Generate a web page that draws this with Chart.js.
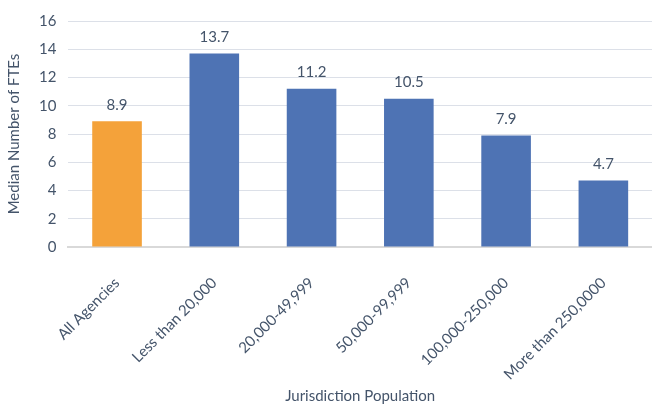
<!DOCTYPE html>
<html>
<head>
<meta charset="utf-8">
<script src="https://cdn.jsdelivr.net/npm/chart.js@4"></script>
<style>
  html, body { margin: 0; padding: 0; background: #fff; }
  #wrap { width: 652px; height: 405px; }
</style>
</head>
<body>
<div id="wrap"><canvas id="ftes" width="652" height="405"></canvas></div>
<script>
var categories = ["All Agencies", "Less than 20,000", "20,000-49,999", "50,000-99,999", "100,000-250,000", "More than 250,0000"];
var medianFtes = [8.9, 13.7, 11.2, 10.5, 7.9, 4.7];
var barColors = ["#F4A23A", "#4E73B4", "#4E73B4", "#4E73B4", "#4E73B4", "#4E73B4"];
var yTicks = [0, 2, 4, 6, 8, 10, 12, 14, 16];

var textColor = "#44546A";
var fontFamily = "Lato, 'Open Sans', sans-serif";

// value labels above each bar
var barLabels = {
  id: 'barLabels',
  afterDatasetsDraw: function(chart) {
    var ctx = chart.ctx;
    var meta = chart.getDatasetMeta(0);
    ctx.save();
    ctx.fillStyle = textColor;
    ctx.font = "15px " + fontFamily;
    ctx.textAlign = 'center';
    ctx.textBaseline = 'bottom';
    meta.data.forEach(function(bar, i) {
      ctx.fillText(medianFtes[i].toFixed(1), bar.x, bar.y - 9);
    });
    ctx.restore();
  }
};

var ctx = document.getElementById('ftes').getContext('2d');
var chart = new Chart(ctx, {
  type: 'bar',
  data: {
    labels: categories,
    datasets: [{
      data: medianFtes,
      backgroundColor: barColors,
      barPercentage: 0.51,
      categoryPercentage: 1.0
    }]
  },
  options: {
    responsive: false,
    animation: false,
    layout: { padding: { top: 4, right: 0, left: 5, bottom: 0 } },
    plugins: {
      legend: { display: false },
      tooltip: { enabled: false }
    },
    scales: {
      x: {
        afterFit: function(scale) { scale.height = 158; },
        grid: { display: false, drawTicks: false },
        border: { color: "#D9D9D9", width: 2 },
        ticks: {
          color: textColor,
          font: { family: fontFamily, size: 15 },
          minRotation: 45,
          maxRotation: 45,
          padding: 27
        },
        title: {
          display: true,
          text: "Jurisdiction Population",
          color: textColor,
          font: { family: fontFamily, size: 15 },
          padding: { top: 4, bottom: 0 }
        }
      },
      y: {
        min: 0,
        max: 16,
        afterBuildTicks: function(axis) {
          axis.ticks = yTicks.map(function(v) { return { value: v }; });
        },
        grid: { color: "#DCE0E8", lineWidth: 1, drawTicks: false },
        border: { display: false },
        ticks: {
          color: textColor,
          font: { family: fontFamily, size: 15 },
          padding: 12
        },
        title: {
          display: true,
          text: "Median Number of FTEs",
          color: textColor,
          font: { family: fontFamily, size: 15 },
          padding: { top: 0, bottom: 4 }
        }
      }
    }
  },
  plugins: [barLabels]
});
</script>
</body>
</html>
